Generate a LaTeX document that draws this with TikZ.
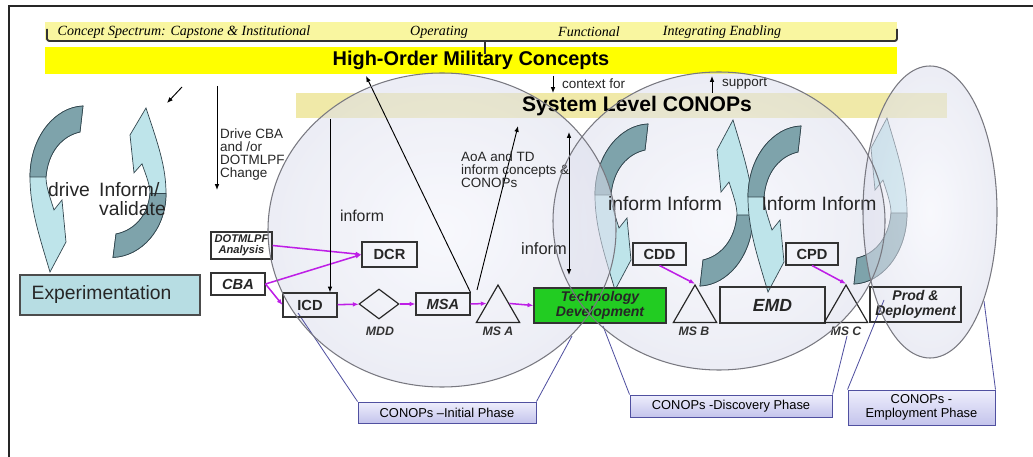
\documentclass[tikz,border=0pt]{standalone}
\usepackage{fontspec}
\setmainfont{Liberation Sans}
\newfontfamily\spectrumfont{Liberation Serif}
\usepackage{tikz}
\usetikzlibrary{shapes.geometric, arrows}
\usetikzlibrary{calc}
\usetikzlibrary{arrows.meta}

\definecolor{hiyellow}{RGB}{255,255,0}
\definecolor{paleyellow}{RGB}{249,246,160}
\definecolor{khaki}{RGB}{240,233,168}
\definecolor{expteal}{RGB}{183,221,227}
\definecolor{tealdark}{RGB}{126,163,171}
\definecolor{teallight}{RGB}{190,228,234}
\definecolor{tealedge}{RGB}{50,70,78}
\definecolor{magflow}{RGB}{190,30,230}
\definecolor{tdgreen}{RGB}{34,204,34}
\definecolor{phaseedge}{RGB}{80,80,160}
\definecolor{phasetop}{RGB}{238,238,252}
\definecolor{phasebot}{RGB}{196,196,236}
\definecolor{ringin}{RGB}{242,243,251}
\definecolor{ringout}{RGB}{220,222,236}
\definecolor{ringedge}{RGB}{120,120,128}

% curved arrow, tip at origin, tail above, bulging left
\tikzset{
  pics/curl/.style={code={
    \path[fill=teallight, draw=tealedge, line width=0.6pt] (0,0) -- (16,-30) -- (12,-72) -- (4,-62)
      .. controls (0,-75) and (-4,-85) .. (-4,-95)
      .. controls (-2,-120) and (12,-136) .. (30,-140)
      -- (33,-166)
      .. controls (5,-165) and (-20,-135) .. (-20,-95)
      .. controls (-20,-65) and (-12,-40) .. (0,0) -- cycle;
    \path[fill=tealdark, draw=tealedge, line width=0.6pt] (-4,-95)
      .. controls (-2,-120) and (12,-136) .. (30,-140)
      -- (33,-166)
      .. controls (5,-165) and (-20,-135) .. (-20,-95) -- cycle;
  }}
}

\begin{document}
\begin{tikzpicture}[x=0.03cm, y=-0.03cm, >={Latex[length=5pt,width=4pt]},
    box/.style = {draw=black!80, line width=0.9pt, inner sep=1pt, align=center, text=black!85},
    tri/.style = {draw=black!85, line width=1pt, regular polygon, regular polygon sides=3, minimum size=1.5cm, inner sep=0pt},
    mslabel/.style = {font=\fontsize{10.5}{10.5}\selectfont\bfseries\itshape, text=black!80},
    flow/.style = {->, draw=magflow, line width=1.3pt},
    link/.style = {->, line width=0.8pt},
    note/.style = {font=\fontsize{11.5}{11.2}\selectfont, align=left, inner sep=0pt, text=black!85},
    big/.style = {font=\fontsize{16.5}{16}\selectfont, inner sep=0pt, text=black!85},
    spectrum/.style = {font=\spectrumfont\itshape\fontsize{12}{12}\selectfont, inner sep=0pt},
    phase/.style = {draw=phaseedge, line width=0.8pt, top color=phasetop, bottom color=phasebot, font=\fontsize{11}{12}\selectfont, align=center, inner sep=1pt},
    phaseline/.style = {draw=phaseedge, line width=0.7pt},
    ring/.style = {inner color=ringin, outer color=ringout, fill opacity=0.55},
    ringline/.style = {draw=ringedge, line width=0.9pt}]
\useasboundingbox (0,0) rectangle (1033,457);
\draw[line width=1.8pt, black!85] (9,470) -- (9,6) -- (1045,6);

% concept bars
\node[fill=paleyellow, minimum width=25.56cm, minimum height=0.54cm] (spec) at (471,31) {};
\node[fill=hiyellow, minimum width=25.56cm, minimum height=0.75cm, font=\fontsize{17}{17}\selectfont\bfseries] (hoc) at (471,60.5) {High-Order Military Concepts};
\node[fill=khaki, minimum width=19.53cm, minimum height=0.75cm] (sys) at (621.5,105.5) {};
\draw[line width=1.6pt, black!80, rounded corners=2pt] (47,29) -- (47,41) -- (897,41) -- (897,29);
\draw[line width=1.6pt, black!80] (485,41) -- (485,54);
\node[spectrum] (capst) at (184,32) {Concept Spectrum: Capstone \& Institutional};
\node[spectrum] (oper) at (439,32) {Operating};
\node[spectrum] (func) at (589,32) {Functional};
\node[spectrum] (integ) at (722,32) {Integrating Enabling};

% discovery ring below its arrows
\path[ring] (719,221) ellipse [x radius=166, y radius=149];

% curved arrows
\pic at (50,272) {curl};
\pic[rotate=180, yscale=0.9] at (146,108) {curl};
\pic at (615,290) {curl};
\pic[rotate=180] at (733,120) {curl};
\pic at (768,292) {curl};
\pic[rotate=180] at (887,118) {curl};

% other rings
\path[ring] (442,230) ellipse [x radius=174, y radius=157];
\path[ring] (930,212) ellipse [x radius=67, y radius=146];
\node[font=\fontsize{18}{18}\selectfont\bfseries] (systxt) at (637,106) {System Level CONOPs};

% phase boxes
\node[phase, minimum width=5.34cm, minimum height=0.63cm] (ph1) at (447,412.5) {CONOPs –Initial Phase};
\node[phase, minimum width=6.06cm, minimum height=0.66cm] (ph2) at (731,406) {CONOPs -Discovery Phase};
\node[phase, minimum width=4.41cm, minimum height=1.05cm] (ph3) at (921.5,407.5) {CONOPs -\\Employment Phase};
\coordinate (p1a) at (298,313);
\coordinate (p1b) at (572,336);
\coordinate (p2a) at (603,326);
\coordinate (p2b) at (847,336);
\coordinate (p3a) at (884,300);
\coordinate (p3b) at (984,301);
\draw[phaseline] (ph1.north west) -- (p1a);
\draw[phaseline] (ph1.north east) -- (p1b);
\draw[phaseline] (ph2.north west) -- (p2a);
\draw[phaseline] (ph2.north east) -- (p2b);
\draw[phaseline] (ph3.north west) -- (p3a);
\draw[phaseline] (ph3.north east) -- (p3b);

% process boxes
\node[box, fill=expteal, draw=black!70, minimum width=5.4cm, minimum height=1.2cm, text width=4.7cm, align=left, inner xsep=0.35cm, font=\fontsize{16.5}{16.5}\selectfont] (exp) at (110,295) {Experimentation};
\node[box, minimum width=1.83cm, minimum height=0.81cm, font=\fontsize{9.5}{9.5}\selectfont\bfseries\itshape] (dotm) at (241.5,245.5) {DOTMLPF\\Analysis};
\node[box, minimum width=1.62cm, minimum height=0.66cm, font=\fontsize{12.5}{12.5}\selectfont\bfseries\itshape] (cba) at (238,284) {CBA};
\node[box, minimum width=1.65cm, minimum height=0.75cm, font=\fontsize{12.5}{12.5}\selectfont\bfseries] (dcr) at (389.5,254.5) {DCR};
\node[box, minimum width=1.62cm, minimum height=0.72cm, font=\fontsize{12.5}{12.5}\selectfont\bfseries] (icd) at (310,305) {ICD};
\node[draw=black!85, line width=1pt, diamond, minimum width=1.2cm, minimum height=0.9cm, inner sep=0pt] (mdd) at (379,304) {};
\node[box, minimum width=1.62cm, minimum height=0.66cm, font=\fontsize{12.5}{12.5}\selectfont\bfseries\itshape] (msa) at (443,304) {MSA};
\node[tri] (msa1) at (498,310) {};
\node[box, fill=tdgreen, minimum width=3.96cm, minimum height=1.05cm, font=\fontsize{12}{13}\selectfont\bfseries\itshape] (tdev) at (600,305.5) {Technology\\Development};
\node[tri] (msb) at (695,310) {};
\node[box, minimum width=3.15cm, minimum height=1.08cm, font=\fontsize{15}{15}\selectfont\bfseries\itshape] (emd) at (772.5,305) {EMD};
\node[tri] (msc) at (846,310) {};
\node[box, minimum width=2.73cm, minimum height=1.05cm, font=\fontsize{12}{13}\selectfont\bfseries\itshape] (prod) at (915.5,304.5) {Prod \&\\Deployment};
\node[box, minimum width=1.59cm, minimum height=0.66cm, font=\fontsize{12.5}{12.5}\selectfont\bfseries] (cdd) at (659.5,254) {CDD};
\node[box, minimum width=1.56cm, minimum height=0.66cm, font=\fontsize{12.5}{12.5}\selectfont\bfseries] (cpd) at (812,254) {CPD};
\node[mslabel] (mddl) at (380,331) {MDD};
\node[mslabel] (msal) at (498,331) {MS A};
\node[mslabel] (msbl) at (694,331) {MS B};
\node[mslabel] (mscl) at (846,331) {MS C};

% magenta flow
\draw[flow] (dotm.east) -- (dcr.west);
\draw[flow] (cba.east) -- (dcr.west);
\draw[flow] (cba.east) -- (icd.west);
\draw[flow] (icd) -- (mdd);
\draw[flow] (mdd) -- (msa);
\draw[flow] (msa.east) -- ($(msa1.corner 1)!0.5!(msa1.corner 2)$);
\draw[flow] ($(msa1.corner 1)!0.5!(msa1.corner 3)$) -- (tdev.west);
\draw[flow] (cdd.south) -- (msb.corner 1);
\draw[flow] (cpd.south) -- (msc.corner 1);

% black links
\coordinate (dg1) at (182,87);
\coordinate (dg2) at (167,103);
\coordinate (dv1) at (217,86);
\coordinate (dv2) at (217,190);
\coordinate (in1) at (330,119);
\coordinate (hc1) at (366,76);
\coordinate (ma1) at (477,290);
\coordinate (sl1) at (518,126);
\coordinate (dd1) at (569,132);
\coordinate (dd2) at (569,275);
\coordinate (cf1) at (553,76);
\coordinate (cf2) at (553,93);
\coordinate (sp1) at (712,93);
\coordinate (sp2) at (712,76);
\draw[link] (dg1) -- (dg2);
\draw[link] (dv1) -- (dv2);
\draw[link] (in1) -- (in1 |- icd.north);
\draw[link] (msa.north east) -- (hc1);
\draw[link] (ma1) -- (sl1);
\draw[link, <->] (dd1) -- (dd2);
\draw[link] (cf1) -- (cf2);
\draw[link] (sp1) -- (sp2);

% texts
\node[note, anchor=west] (ctx) at (562,84) {context for};
\node[note, anchor=west] (sup) at (722,84) {support};
\node[note, anchor=west] (drv) at (220,154.5) {Drive CBA\\and /or\\DOTMLPF\\Change};
\node[note, anchor=west] (aoa) at (461,170) {AoA and TD\\inform concepts \&\\CONOPs};
\node[note, font=\fontsize{13.5}{13.5}\selectfont] (inf1) at (362,216) {inform};
\node[note, font=\fontsize{14}{14}\selectfont] (inf2) at (544,249) {inform};
\node[big] (drive) at (69,190) {drive};
\node[big, anchor=west, align=left] (valid) at (99,199) {Inform/\\validate};
\node[big] (inf3) at (665,204) {inform Inform};
\node[big] (inf4) at (819,204) {Inform Inform};

% ring outlines
\draw[ringline] (442,230) ellipse [x radius=174, y radius=157];
\draw[ringline] (719,221) ellipse [x radius=166, y radius=149];
\draw[ringline] (930,212) ellipse [x radius=67, y radius=146];
\end{tikzpicture}
\end{document}
